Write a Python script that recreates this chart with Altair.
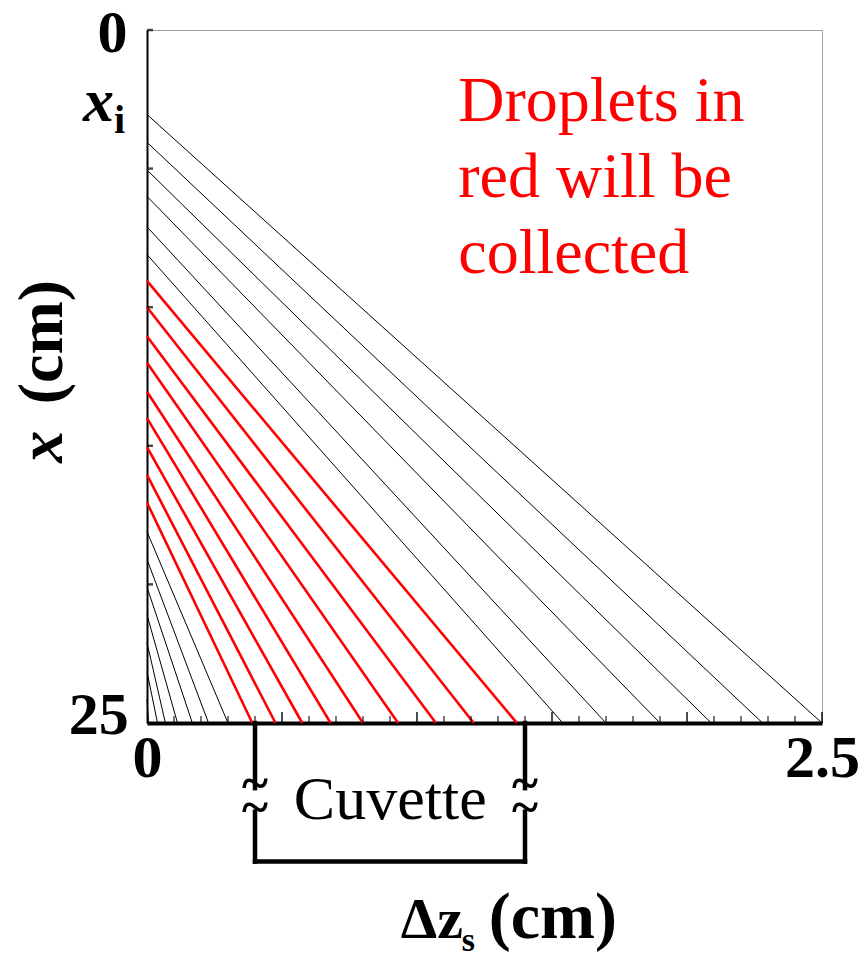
import altair as alt
import pandas as pd

# ---- data ----
# starting depth x_i (cm) of each droplet trajectory (left axis, top to bottom)
x_start = [3.05, 4.05, 5.05, 6.0, 7.1, 8.1, 9.05, 10.0, 11.05, 12.0, 13.05,
           14.0, 15.05, 16.05, 17.05, 18.1, 19.1, 20.1, 21.1, 22.1, 23.15, 24.15]
# horizontal drift at the bottom (x = 25 cm)
dz_end = [2.50, 2.28, 2.09, 1.90, 1.70, 1.54, 1.37, 1.21, 1.07, 0.93, 0.80,
          0.68, 0.575, 0.476, 0.39, 0.30, 0.228, 0.168, 0.113, 0.068, 0.039, 0.006]
collected = [False] * 6 + [True] * 9 + [False] * 7
x_bottom = 25.0

minor_ticks = [0.1, 0.2, 0.3, 0.4, 0.6, 0.7, 0.8, 0.9, 1.1, 1.2, 1.3, 1.4,
               1.6, 1.7, 1.8, 1.9, 2.1, 2.2, 2.3, 2.4]
major_ticks = [0.5, 1.0, 1.5, 2.0, 2.5]
y_ticks = [0, 5, 10, 15, 20]

cuvette_left, cuvette_right = 0.4, 1.4
cuvette_bottom = 30.0
break_top, break_bottom = 27.35, 28.2

FONT = "Liberation Serif"

rows = []
for i, (xs, dz, c) in enumerate(zip(x_start, dz_end, collected)):
    g = "red" if c else "black"
    rows.append({"id": i, "dz": 0.0, "x": xs, "grp": g})
    rows.append({"id": i, "dz": dz, "x": x_bottom, "grp": g})
traj = pd.DataFrame(rows)

xsc = alt.Scale(domain=[0, 2.5], nice=False, zero=False)
ysc = alt.Scale(domain=[0, 25], reverse=True, nice=False, zero=False)

X = lambda: alt.X("dz:Q", scale=xsc, title=None)
Y = lambda: alt.Y("x:Q", scale=ysc, title=None)

base = alt.Chart(traj).encode(
    x=alt.X("dz:Q", scale=xsc, title=None,
            axis=alt.Axis(values=[0, 2.5], labelExpr="datum.value == 0 ? '0' : '2.5'",
                          labelFont=FONT, labelFontSize=60, labelFontWeight="bold",
                          labelColor="black", labelPadding=6, labelOverlap=False,
                          labelBound=False, labelFlush=False,
                          ticks=False, grid=False, domainColor="black", domainWidth=4)),
    y=alt.Y("x:Q", scale=ysc, title=None,
            axis=alt.Axis(labels=False, ticks=False, grid=False,
                          domainColor="black", domainWidth=2)),
    detail="id:N",
)
black_lines = base.transform_filter("datum.grp == 'black'").mark_line(
    color="black", strokeWidth=1)
red_lines = base.transform_filter("datum.grp == 'red'").mark_line(
    color="#ff0000", strokeWidth=2.6)

minor = alt.Chart(pd.DataFrame({"dz": minor_ticks})).mark_tick(
    orient="vertical", size=7, thickness=1.5, yOffset=-3.5, color="black"
).encode(x=X(), y=alt.datum(25))
major = alt.Chart(pd.DataFrame({"dz": major_ticks})).mark_tick(
    orient="vertical", size=11, thickness=2, yOffset=-5.5, color="black"
).encode(x=X(), y=alt.datum(25))
yt = alt.Chart(pd.DataFrame({"x": y_ticks})).mark_tick(
    orient="horizontal", size=6, thickness=2.5, xOffset=3, color="black"
).encode(y=Y(), x=alt.datum(0))

# cuvette outline
seg = pd.DataFrame({
    "dz": [cuvette_left, cuvette_left, cuvette_right, cuvette_right, cuvette_left],
    "dz2": [cuvette_left, cuvette_left, cuvette_right, cuvette_right, cuvette_right],
    "x": [x_bottom, break_bottom, x_bottom, break_bottom, cuvette_bottom],
    "x2": [break_top, cuvette_bottom, break_top, cuvette_bottom, cuvette_bottom],
})
cuvette = alt.Chart(seg).mark_rule(color="black", strokeWidth=4.5, strokeCap="square").encode(
    x=X(), x2="dz2:Q", y=Y(), y2="x2:Q")

tilde = alt.Chart(pd.DataFrame({
    "dz": [cuvette_left, cuvette_left, cuvette_right, cuvette_right],
    "x": [break_top, break_bottom, break_top, break_bottom],
    "t": ["~", "~", "~", "~"]})).mark_text(
    font=FONT, fontSize=50, fontWeight="bold", baseline="middle", color="black", dy=-3
).encode(x=X(), y=Y(), text="t:N")


def label(text, dz, x, size, baseline="alphabetic", **kw):
    return alt.Chart(pd.DataFrame({"dz": [dz], "x": [x], "t": [text]})).mark_text(
        font=FONT, fontSize=size, baseline=baseline, **kw).encode(x=X(), y=Y(), text="t:N")


texts = [
    label("Droplets in", 1.153, 3.30, 64, align="left", color="#ff0000"),
    label("red will be", 1.153, 6.01, 64, align="left", color="#ff0000"),
    label("collected", 1.153, 8.75, 64, align="left", color="#ff0000"),
    label("Cuvette", 0.901, 28.48, 62, align="center", color="black"),
    label("0", -0.072, 0.78, 60, align="right", fontWeight="bold"),
    label("25", -0.068, 25.41, 60, align="right", fontWeight="bold"),
    label("x", -0.122, 3.30, 62, align="right", fontWeight="bold", fontStyle="italic"),
    label("i", -0.122, 3.70, 40, align="left", fontWeight="bold"),
    label("(cm)", -0.313, 11.26, 64, align="center", angle=270, fontWeight="bold"),
    label("x", -0.313, 15.03, 64, align="center", angle=270, fontWeight="bold",
          fontStyle="italic"),
    label("Δz", 0.94, 32.74, 58, align="left", fontWeight="bold"),
    label("s", 1.166, 33.24, 34, align="left", fontWeight="bold"),
    label("(cm)", 1.266, 32.74, 66, align="left", fontWeight="bold"),
]

chart = alt.layer(black_lines, red_lines, minor, major, yt, cuvette, tilde, *texts).properties(
    width=675, height=693,
    autosize=alt.AutoSizeParams(type="none"),
    padding={"left": 147, "top": 30, "right": 46, "bottom": 234},
    background="white",
).configure_view(stroke="#a0a0a0", strokeWidth=1)

chart.save("out.html", embed_options={"renderer": "svg", "actions": False})
